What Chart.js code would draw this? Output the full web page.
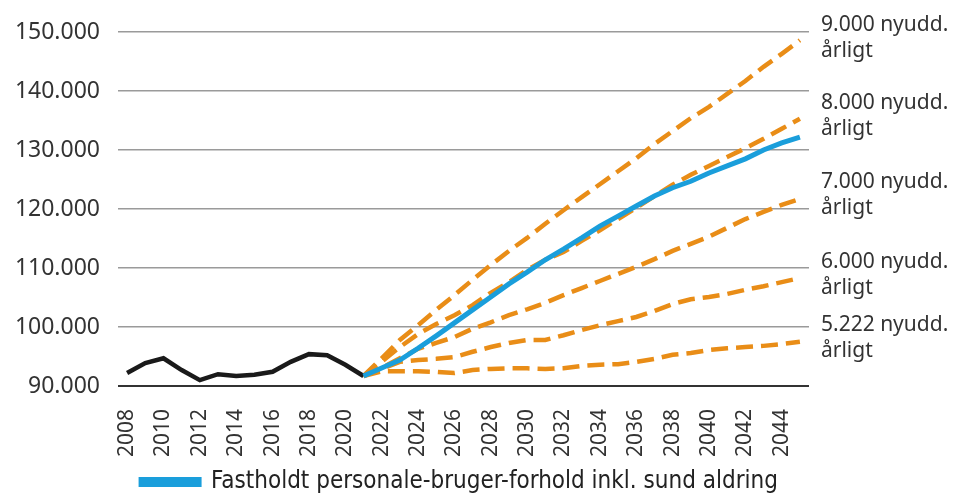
<!DOCTYPE html>
<html>
<head>
<meta charset="utf-8">
<script src="https://cdn.jsdelivr.net/npm/chart.js@4.4.1/dist/chart.umd.min.js"></script>
<style>
  html, body { margin: 0; padding: 0; background: #fff; }
  #wrap { width: 963px; height: 493px; position: relative; }
</style>
</head>
<body>
<div id="wrap"><canvas id="chart"></canvas></div>
<script>
    "use strict";

    // years on the x axis (2008-2045), only even ones are labelled
    const years = [2008, 2009, 2010, 2011, 2012, 2013, 2014, 2015, 2016, 2017, 2018, 2019, 2020,
        2021, 2022, 2023, 2024, 2025, 2026, 2027, 2028, 2029, 2030, 2031, 2032, 2033, 2034,
        2035, 2036, 2037, 2038, 2039, 2040, 2041, 2042, 2043, 2044, 2045];

    // actual figures 2008-2021
    const historical = [92200, 93900, 94700, 92700, 91000, 92000, 91700, 91900, 92400, 94100,
        95400, 95200, 93600, 91700];

    // projections 2021-2045
    const constantRatio = [91700, 93050, 94400, 96400, 98500, 100700, 102900, 105100, 107300,
        109300, 111400, 113200, 115100, 117100, 118800, 120500, 122200, 123600, 124700, 126100,
        127300, 128500, 130000, 131200, 132200];
    const grads9000 = [91700, 94700, 97800, 100300, 102900, 105400, 108000, 110500, 112900,
        115100, 117500, 119800, 122000, 124200, 126400, 128600, 131000, 133200, 135400, 137300,
        139500, 141700, 144100, 146300, 148600];
    const grads8000 = [91700, 94100, 96600, 98800, 100500, 102000, 103700, 105800, 107600,
        109700, 111400, 112700, 114600, 116400, 118300, 120200, 122200, 124100, 125800, 127300,
        128800, 130300, 131900, 133600, 135300];
    const grads7000 = [91700, 93050, 94700, 96300, 97300, 98300, 99700, 100800, 102000, 103000,
        104100, 105400, 106600, 107800, 109000, 110200, 111500, 112900, 114100, 115300, 116800,
        118300, 119500, 120700, 121700];
    const grads6000 = [91700, 92900, 94100, 94400, 94600, 94900, 95800, 96600, 97300, 97800,
        97800, 98600, 99500, 100300, 101000, 101700, 102700, 103900, 104700, 105100, 105600,
        106300, 106900, 107600, 108300];
    const grads5222 = [91700, 92500, 92500, 92500, 92400, 92200, 92700, 92900, 93000, 93000,
        92900, 93000, 93400, 93600, 93700, 94100, 94600, 95300, 95600, 96100, 96400, 96600,
        96800, 97100, 97500];

    // right-hand labels: text and the y value the first line sits at
    const scenarioLabels = ["9.000 nyudd.", "8.000 nyudd.", "7.000 nyudd.", "6.000 nyudd.", "5.222 nyudd."];
    const scenarioLabelValues = [151200, 138000, 124600, 111000, 100300];

    const legendLabel = "Fastholdt personale-bruger-forhold inkl. sund aldring";

    const ORANGE = "#e98d17";
    const BLUE = "#1a9edb";
    const TEXT = "#333333";

    const startIdx = years.indexOf(2021);
    function pad(values, start) {
        let out = [];
        for (let i = 0; i < years.length; i++) {
            let j = i - start;
            out.push(j >= 0 && j < values.length ? values[j] : null);
        }
        return out;
    }

    function dashed(label, values) {
        return {
            label: label,
            data: pad(values, startIdx),
            borderColor: ORANGE,
            backgroundColor: ORANGE,
            borderWidth: 4.5,
            borderDash: [17, 8],
            pointRadius: 0,
            tension: 0,
        };
    }

    const rightLabels = {
        id: "rightLabels",
        afterDatasetsDraw(chart) {
            const ctx = chart.ctx;
            const y = chart.scales.y;
            ctx.save();
            ctx.font = "21px 'Noto Sans'";
            ctx.fillStyle = TEXT;
            ctx.textBaseline = "middle";
            ctx.textAlign = "left";
            const x = chart.chartArea.right + 12;
            scenarioLabels.forEach((t, i) => {
                const py = y.getPixelForValue(scenarioLabelValues[i]);
                ctx.fillText(t, x, py);
                ctx.fillText("årligt", x, py + 26);
            });
            ctx.restore();
        },
    };

    // nudge the legend so it sits under the plot like the original
    const legendShift = {
        id: "legendShift",
        afterLayout(chart) {
            if (chart.legend) {
                chart.legend.left += 55;
                chart.legend.right += 55;
                chart.legend.top += 11;
                chart.legend.bottom += 11;
            }
        },
    };

    const ctx = document.getElementById("chart").getContext("2d");
    const myChart = new Chart(ctx, {
        type: "line",
        data: {
            labels: years,
            datasets: [
                {
                    label: legendLabel,
                    data: pad(constantRatio, startIdx),
                    borderColor: BLUE,
                    backgroundColor: BLUE,
                    borderWidth: 5,
                    pointRadius: 0,
                    tension: 0,
                },
                {
                    label: "Faktisk",
                    data: pad(historical, 0),
                    borderColor: "#1a1a1a",
                    backgroundColor: "#1a1a1a",
                    borderWidth: 4.5,
                    pointRadius: 0,
                    tension: 0,
                },
                dashed("9.000", grads9000),
                dashed("8.000", grads8000),
                dashed("7.000", grads7000),
                dashed("6.000", grads6000),
                dashed("5.222", grads5222),
            ],
        },
        options: {
            responsive: true,
            maintainAspectRatio: false,
            animation: false,
            layout: {
                padding: { top: 32, right: 154, left: 0, bottom: 0 },
            },
            plugins: {
                legend: {
                    position: "bottom",
                    labels: {
                        filter: (item) => item.datasetIndex === 0,
                        boxWidth: 58,
                        boxHeight: 5,
                        color: "#222",
                        padding: 2,
                        font: { family: "'Liberation Sans Narrow', 'DejaVu Sans Condensed', sans-serif", size: 24 },
                    },
                },
                tooltip: { enabled: false },
            },
            scales: {
                x: {
                    offset: true,
                    grid: { display: false },
                    border: { display: false },
                    afterFit: (scale) => { scale.height = 71; },
                    ticks: {
                        autoSkip: false,
                        minRotation: 90,
                        maxRotation: 90,
                        padding: 15,
                        color: TEXT,
                        font: { family: "'Noto Sans'", size: 21 },
                        callback: function (value, index) {
                            const yr = years[index];
                            return yr % 2 === 0 ? String(yr) : null;
                        },
                    },
                },
                y: {
                    min: 90000,
                    max: 150000,
                    border: { display: false },
                    afterFit: (scale) => { scale.width = 118; },
                    grid: {
                        drawTicks: false,
                        lineWidth: (c) => (c.tick && c.tick.value === 90000 ? 2 : 1.5),
                        color: (c) => (c.tick && c.tick.value === 90000 ? "#333" : "#9a9a9a"),
                    },
                    ticks: {
                        stepSize: 10000,
                        padding: 18,
                        color: TEXT,
                        font: { family: "'Noto Sans'", size: 23 },
                        callback: (v) => v.toLocaleString("de-DE"),
                    },
                },
            },
        },
        plugins: [rightLabels, legendShift],
    });
</script>
</body>
</html>
